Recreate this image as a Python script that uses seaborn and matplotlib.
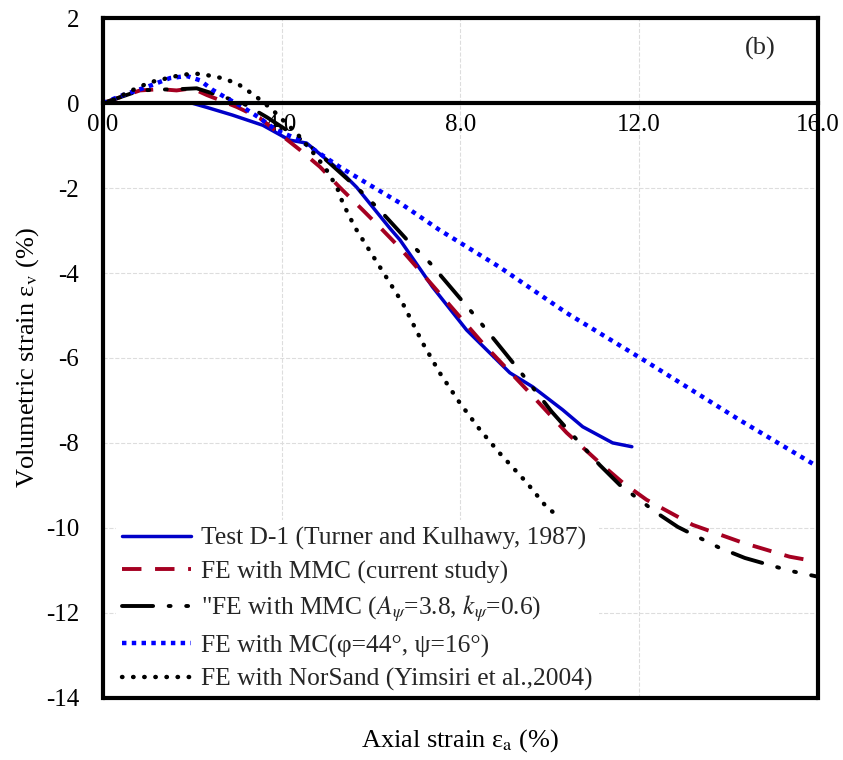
import numpy as np
import pandas as pd
import matplotlib
matplotlib.use('Agg')
import matplotlib.pyplot as plt
import seaborn as sns

# data (axial strain %, volumetric strain %)
test_x = [2.0, 2.33, 2.9, 3.58, 4.18, 4.56, 5.3, 5.68, 6.42, 6.65, 7.38, 8.14, 9.11, 9.62, 10.29, 10.74, 11.41, 11.84]
test_y = [0.0, -0.1, -0.28, -0.52, -0.87, -0.94, -1.58, -1.98, -2.94, -3.22, -4.33, -5.34, -6.35, -6.68, -7.22, -7.62, -8.0, -8.09]

mmc_x = [0.0, 0.83, 1.28, 1.65, 2.0, 2.33, 2.62, 3.0, 3.51, 4.41, 4.86, 5.3, 5.82, 6.2, 6.65, 7.47, 8.5, 9.49, 10.38, 11.12, 11.64, 12.17, 13.2, 14.32, 15.37, 16.0]
mmc_y = [0.0, 0.3, 0.33, 0.3, 0.35, 0.19, 0.07, -0.09, -0.35, -1.1, -1.5, -1.98, -2.52, -2.92, -3.41, -4.4, -5.65, -6.75, -7.76, -8.47, -8.94, -9.34, -9.93, -10.35, -10.68, -10.8]

mmc2_x = [0.0, 0.83, 1.28, 1.72, 2.1, 3.13, 3.67, 4.56, 5.0, 5.75, 6.2, 6.87, 7.32, 7.99, 8.37, 9.04, 9.4, 10.05, 10.45, 11.12, 11.57, 12.4, 12.87, 13.8, 14.37, 15.37, 16.0]
mmc2_y = [0.0, 0.3, 0.32, 0.33, 0.35, 0.0, -0.33, -0.94, -1.34, -2.05, -2.52, -3.29, -3.76, -4.59, -5.06, -5.93, -6.4, -7.27, -7.74, -8.52, -8.99, -9.65, -9.98, -10.47, -10.71, -11.01, -11.15]

mc_x = [0.0, 0.45, 0.98, 1.5, 1.88, 2.17, 2.46, 2.77, 3.13, 3.51, 3.89, 4.41, 5.3, 5.9, 6.65, 7.54, 8.88, 10.38, 12.17, 14.25, 16.0]
mc_y = [0.0, 0.19, 0.38, 0.59, 0.64, 0.54, 0.31, 0.12, -0.09, -0.35, -0.64, -0.87, -1.5, -1.88, -2.35, -2.99, -3.86, -4.94, -6.09, -7.46, -8.56]

ns_x = [0.0, 0.22, 0.67, 1.05, 1.65, 2.01, 2.24, 2.62, 3.0, 3.29, 3.51, 3.8, 3.96, 4.34, 4.79, 5.01, 5.24, 5.37, 5.64, 6.71, 7.16, 7.54, 7.99, 8.44, 8.88, 9.49, 9.93, 10.16]
ns_y = [0.0, 0.07, 0.31, 0.49, 0.64, 0.7, 0.68, 0.6, 0.47, 0.26, 0.09, -0.16, -0.33, -0.71, -1.27, -1.58, -1.98, -2.35, -2.92, -4.71, -5.65, -6.35, -7.06, -7.69, -8.24, -8.94, -9.51, -9.7]

labels = ['Test D-1 (Turner and Kulhawy, 1987)',
          'FE with MMC (current study)',
          '"FE with MMC ($A_\\psi$=3.8, $k_\\psi$=0.6)',
          'FE with MC(φ=44°, ψ=16°)',
          'FE with NorSand (Yimsiri et al.,2004)']

x_ticks = [0.0, 4.0, 8.0, 12.0, 16.0]
y_ticks = [-14, -12, -10, -8, -6, -4, -2, 0, 2]

sns.set_theme(style='white')
plt.rcParams['font.family'] = ['Liberation Serif', 'DejaVu Serif']
plt.rcParams['mathtext.fontset'] = 'stix'
plt.rcParams['axes.unicode_minus'] = False

fig = plt.figure(figsize=(8.43, 7.6), dpi=100)
ax = fig.add_axes([0.122, 0.082, 0.848, 0.894])

series = [(test_x, test_y), (mmc_x, mmc_y), (mmc2_x, mmc2_y), (mc_x, mc_y), (ns_x, ns_y)]
styles = [
    dict(color='#0000C8', linestyle='-', linewidth=2.5),
    dict(color='#A50021', linestyle=(0, (5, 3.5)), linewidth=2.8),
    dict(color='black', linestyle=(0, (8, 4, 0.5, 4, 0.5, 4)), linewidth=2.8, dash_capstyle='round'),
    dict(color='#0000FF', linestyle=(0, (1, 1.2)), linewidth=3.2),
    dict(color='black', linestyle=(0, (0.1, 2.4)), linewidth=3.2, dash_capstyle='round'),
]

for (xs, ys), lab, st in zip(series, labels, styles):
    df = pd.DataFrame({'x': xs, 'y': ys})
    sns.lineplot(data=df, x='x', y='y', ax=ax, estimator=None, sort=False, label=lab, **st)

ax.set_xlim(0, 16)
ax.set_ylim(-14, 2)
ax.set_xticks(x_ticks)
ax.set_xticklabels([f'{t:.1f}' for t in x_ticks])
ax.set_yticks(y_ticks)

# light dashed grid
for t in [4, 8, 12]:
    ax.axvline(t, color='#dddddd', linestyle='--', linewidth=0.8, zorder=0)
for t in [-12, -10, -8, -6, -4, -2]:
    ax.axhline(t, color='#dddddd', linestyle='--', linewidth=0.8, zorder=0)

# x axis sits on zero, box closed at the bottom
ax.spines['bottom'].set_position(('data', 0))
for sp in ax.spines.values():
    sp.set_linewidth(3)
    sp.set_color('black')
ax.axhline(-14, color='black', linewidth=3, clip_on=False, zorder=6)

ax.tick_params(axis='both', length=0, labelsize=18, colors='black')
ax.tick_params(axis='x', pad=8)
ax.tick_params(axis='y', pad=17)

ax.set_xlabel('Axial strain ε$_{\\rm a}$ (%)', fontsize=19, color='black')
ax.xaxis.set_label_coords(0.5, -0.043)
ax.set_ylabel('Volumetric strain ε$_{\\rm v}$ (%)', fontsize=19, color='black')
ax.yaxis.set_label_coords(-0.086, 0.5)

ax.text(0.92, 0.955, '(b)', transform=ax.transAxes, fontsize=19, ha='center', va='center')

leg = ax.legend(loc='lower left', bbox_to_anchor=(0.018, 0.0), fontsize=18.4,
                handlelength=2.7, handletextpad=0.4, labelspacing=0.4,
                frameon=True, facecolor='white', edgecolor='none', framealpha=1,
                borderaxespad=0.0, borderpad=0.25)

fig.savefig('out.png', dpi=100)
